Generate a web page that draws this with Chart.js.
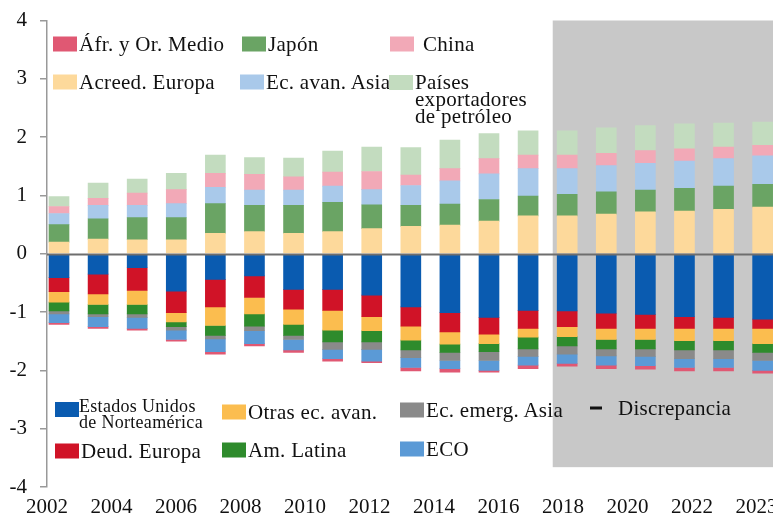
<!DOCTYPE html>
<html lang="es">
<head>
<meta charset="utf-8">
<script src="https://cdn.jsdelivr.net/npm/chart.js@4.4.1/dist/chart.umd.min.js"></script>
<style>
  html, body { margin: 0; padding: 0; background: #fff; overflow: hidden; }
  #wrap { position: relative; width: 820px; height: 517px; }
  .leg { position: absolute; display: flex; align-items: center; transform: translateY(-50%);
         font-family: 'Liberation Serif', serif; font-size: 21px; letter-spacing: 0.3px; color: #111; white-space: nowrap; line-height: 1; }
  .leg.top { align-items: flex-start; transform: none; }
  .leg .sw { width: 24px; height: 15px; margin-right: 2px; flex: none; }
  .leg .dash { width: 12px; height: 3px; background: #111; margin: 0 16px 0 0; flex: none; }
</style>
</head>
<body>
<div id="wrap">
  <canvas id="chart" width="820" height="517"></canvas>
</div>
<script>
// bar years (the picture's axis labels run 2002..2023 but the bars are 2005..2023)
const years = [2005, 2006, 2007, 2008, 2009, 2010, 2011, 2012, 2013, 2014,
               2015, 2016, 2017, 2018, 2019, 2020, 2021, 2022, 2023];
const projectionStart = 2018;

// tick labels as printed under the axis, every two years (last one reads 2023)
const tickLabels = ['2002', '2004', '2006', '2008', '2010', '2012', '2014',
                    '2016', '2018', '2020', '2022', '2023'];

// creditors (positive, bottom to top)
const acreedEuropa   = [0.20, 0.25, 0.24, 0.24, 0.35, 0.38, 0.35, 0.38, 0.43, 0.47, 0.49, 0.56, 0.65, 0.65, 0.68, 0.72, 0.73, 0.76, 0.80];
const japon          = [0.30, 0.35, 0.38, 0.38, 0.51, 0.45, 0.48, 0.50, 0.41, 0.36, 0.36, 0.37, 0.34, 0.37, 0.38, 0.37, 0.39, 0.40, 0.39];
const ecAvanAsia     = [0.19, 0.23, 0.21, 0.24, 0.28, 0.26, 0.26, 0.28, 0.26, 0.34, 0.40, 0.44, 0.47, 0.44, 0.45, 0.46, 0.47, 0.47, 0.49];
const china          = [0.12, 0.12, 0.21, 0.24, 0.24, 0.27, 0.23, 0.24, 0.31, 0.18, 0.21, 0.26, 0.23, 0.23, 0.21, 0.22, 0.21, 0.20, 0.18];
const exportPetroleo = [0.17, 0.26, 0.24, 0.28, 0.31, 0.29, 0.32, 0.36, 0.42, 0.47, 0.49, 0.43, 0.42, 0.42, 0.44, 0.43, 0.43, 0.41, 0.40];

// debtors (negative, top to bottom)
const eeuu        = [-0.41, -0.35, -0.24, -0.64, -0.44, -0.38, -0.61, -0.61, -0.71, -0.91, -1.01, -1.09, -0.97, -0.98, -1.02, -1.04, -1.08, -1.09, -1.12];
const deudEuropa  = [-0.24, -0.34, -0.39, -0.37, -0.47, -0.37, -0.34, -0.36, -0.37, -0.33, -0.33, -0.29, -0.31, -0.27, -0.26, -0.24, -0.20, -0.19, -0.16];
const otrasAvan   = [-0.18, -0.18, -0.24, -0.16, -0.32, -0.28, -0.26, -0.34, -0.24, -0.24, -0.21, -0.16, -0.15, -0.17, -0.19, -0.19, -0.21, -0.21, -0.26];
const amLatina    = [-0.15, -0.16, -0.16, -0.08, -0.17, -0.21, -0.19, -0.20, -0.19, -0.17, -0.14, -0.14, -0.20, -0.16, -0.16, -0.16, -0.16, -0.16, -0.15];
const emergAsia   = [-0.05, -0.05, -0.06, -0.06, -0.06, -0.08, -0.07, -0.13, -0.13, -0.13, -0.14, -0.15, -0.13, -0.14, -0.12, -0.13, -0.15, -0.15, -0.14];
const eco         = [-0.15, -0.17, -0.19, -0.16, -0.22, -0.22, -0.18, -0.16, -0.20, -0.17, -0.14, -0.17, -0.15, -0.16, -0.16, -0.16, -0.15, -0.15, -0.17];
const afrOrMedio  = [-0.03, -0.03, -0.03, -0.03, -0.04, -0.04, -0.04, -0.04, -0.03, -0.06, -0.06, -0.03, -0.06, -0.05, -0.06, -0.06, -0.06, -0.06, -0.05];

const colors = {
    acreedEuropa: '#fdd99b',
    japon: '#6aa464',
    ecAvanAsia: '#a9c9ea',
    china: '#f2a9b7',
    exportPetroleo: '#c3dcbf',
    eeuu: '#0a5bb0',
    deudEuropa: '#d01327',
    otrasAvan: '#fbbd4f',
    amLatina: '#2e8b2c',
    emergAsia: '#8a8a8a',
    eco: '#5b9ad6',
    afrOrMedio: '#e05873'
};

const series = [
    ['Acreed. Europa', acreedEuropa, colors.acreedEuropa],
    ['Japón', japon, colors.japon],
    ['Ec. avan. Asia', ecAvanAsia, colors.ecAvanAsia],
    ['China', china, colors.china],
    ['Países exportadores de petróleo', exportPetroleo, colors.exportPetroleo],
    ['Estados Unidos de Norteamérica', eeuu, colors.eeuu],
    ['Deud. Europa', deudEuropa, colors.deudEuropa],
    ['Otras ec. avan.', otrasAvan, colors.otrasAvan],
    ['Am. Latina', amLatina, colors.amLatina],
    ['Ec. emerg. Asia', emergAsia, colors.emergAsia],
    ['ECO', eco, colors.eco],
    ['Áfr. y Or. Medio', afrOrMedio, colors.afrOrMedio]
];

Chart.defaults.font.family = "'Liberation Serif', serif";
Chart.defaults.color = '#111';

// grey projection box + zero line over the bars
const backdrop = {
    id: 'backdrop',
    beforeDatasetsDraw(chart) {
        const { ctx, chartArea, scales: { x, y } } = chart;
        const x0 = x.getPixelForValue(years.indexOf(projectionStart) - 0.37);
        const yTop = y.getPixelForValue(4);
        const yBot = y.getPixelForValue(-3.66);
        ctx.save();
        ctx.fillStyle = '#c8c8c8';
        ctx.fillRect(x0, yTop, chartArea.right + 30 - x0, yBot - yTop);
        ctx.restore();
    },
    afterDatasetsDraw(chart) {
        const { ctx, chartArea, scales: { y } } = chart;
        const y0 = Math.round(y.getPixelForValue(0)) + 0.5;
        ctx.save();
        ctx.strokeStyle = '#6e6e6e';
        ctx.lineWidth = 2;
        ctx.beginPath();
        ctx.moveTo(chartArea.left, y0);
        ctx.lineTo(chartArea.right + 30, y0);
        ctx.stroke();
        ctx.restore();
    }
};

new Chart(document.getElementById('chart'), {
    type: 'bar',
    data: {
        datasets: series.map(([label, values, color]) => ({
            label: label,
            data: values.map((v, i) => ({ x: i, y: v })),
            backgroundColor: color,
            borderWidth: 0,
            barThickness: 20,
            stack: 'all',
            xAxisID: 'x',
            yAxisID: 'y'
        }))
    },
    options: {
        responsive: false,
        animation: false,
        layout: { padding: { top: 20.5, right: 30, left: 0, bottom: 0 } },
        plugins: { legend: { display: false }, tooltip: { enabled: false } },
        scales: {
            x: {
                type: 'linear',
                display: false,
                stacked: true,
                offset: false,
                bounds: 'data',
                min: -0.307,
                max: 18.70
            },
            x2: {
                type: 'linear',
                position: 'bottom',
                offset: false,
                bounds: 'data',
                min: 2002,
                max: 2025.04,
                grid: { display: false, drawTicks: false, offset: false },
                border: { display: false },
                afterBuildTicks(s) {
                    s.ticks = tickLabels.map((t, i) => ({ value: 2002 + 2 * i }));
                },
                ticks: {
                    autoSkip: false,
                    maxRotation: 0,
                    padding: 8,
                    font: { size: 21 },
                    callback: (v, i) => tickLabels[i]
                },
                afterFit(s) { s.height = 30; }
            },
            y: {
                stacked: true,
                min: -4,
                max: 4,
                ticks: { stepSize: 1, padding: 13, font: { size: 21 } },
                grid: { drawOnChartArea: false, tickLength: 7, tickColor: '#999', lineWidth: 1.5 },
                border: { color: '#999', width: 1.5 },
                afterFit(s) {
                    s.width = 47;
                    s.paddingTop = 0;
                    s.paddingBottom = 0;
                }
            }
        }
    },
    plugins: [backdrop]
});

// legends drawn inside the plot, as in the picture
const wrap = document.getElementById('wrap');
function addLegend(text, color, left, y, opts = {}) {
    const el = document.createElement('div');
    el.className = 'leg' + (opts.top ? ' top' : '');
    el.style.left = left + 'px';
    el.style.top = y + 'px';
    const mark = document.createElement('span');
    if (opts.dash) {
        mark.className = 'dash';
    } else {
        mark.className = 'sw';
        mark.style.background = color;
        if (opts.swTop) mark.style.marginTop = opts.swTop + 'px';
    }
    if (opts.gap !== undefined) mark.style.marginRight = opts.gap + 'px';
    const label = document.createElement('span');
    label.innerHTML = text;
    if (opts.lineHeight) label.style.lineHeight = opts.lineHeight + 'px';
    if (opts.size) label.style.fontSize = opts.size + 'px';
    el.appendChild(mark);
    el.appendChild(label);
    wrap.appendChild(el);
}

addLegend('Áfr. y Or. Medio', colors.afrOrMedio, 53, 44);
addLegend('Japón', colors.japon, 242, 44);
addLegend('China', colors.china, 390, 44, { gap: 9 });
addLegend('Acreed. Europa', colors.acreedEuropa, 53, 82);
addLegend('Ec. avan. Asia', colors.ecAvanAsia, 240, 82);
addLegend('Países<br>exportadores<br>de petróleo', colors.exportPetroleo, 389, 74, { top: true, lineHeight: 17, swTop: 1 });

addLegend('Estados Unidos<br>de Norteamérica', colors.eeuu, 55, 398, { top: true, lineHeight: 16, size: 18, swTop: 4, gap: 0 });
addLegend('Otras ec. avan.', colors.otrasAvan, 222, 412);
addLegend('Ec. emerg. Asia', colors.emergAsia, 400, 410);
addLegend('Discrepancia', '#111', 590, 408, { dash: true });
addLegend('Deud. Europa', colors.deudEuropa, 55, 451);
addLegend('Am. Latina', colors.amLatina, 222, 450);
addLegend('ECO', colors.eco, 400, 449);
</script>
</body>
</html>
